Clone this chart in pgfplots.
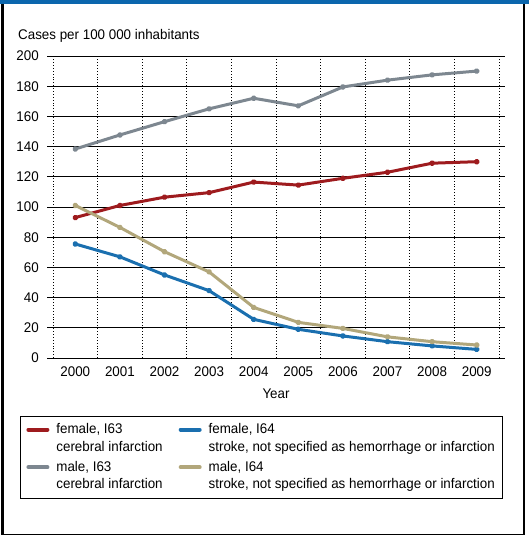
\documentclass[border=0pt]{standalone}
\usepackage{pgfplots}
\pgfplotsset{compat=1.18}
\usepackage{fontspec}
\setmainfont{Liberation Sans}[FakeStretch=0.955]
\definecolor{cred}{HTML}{9E1B1E}
\definecolor{cblue}{HTML}{1A6FAF}
\definecolor{cgray}{HTML}{7D8790}
\definecolor{ctan}{HTML}{B2A77B}
\definecolor{cbar}{HTML}{0B66AD}
\begin{document}
\fontsize{14bp}{17.5bp}\selectfont
\begin{tikzpicture}[x=1bp,y=1bp]
\useasboundingbox (0,0) rectangle (529,535);
\fill[cbar] (0,530.5) rectangle (529,535);
\draw[line width=2.5bp] (2.5,0) -- (2.5,531);
\draw[line width=2.5bp] (524,0) -- (524,531);
\draw[line width=2.5bp] (1.2,0) -- (525.3,0);
\begin{axis}[
  at={(47bp,177bp)}, anchor=south west,
  scale only axis, width=458bp, height=302bp,
  xmin=-0.635, xmax=9.635, ymin=0, ymax=200,
  xtick={0,...,9},
  xticklabels={2000,2001,2002,2003,2004,2005,2006,2007,2008,2009},
  minor xtick={-0.5,0.5,...,9.5},
  ytick={0,20,...,200},
  axis line style={draw=none},
  major tick length=0pt, minor tick length=0pt,
  ymajorgrids=true, xminorgrids=true,
  major grid style={black, line width=0.9bp},
  minor grid style={black, line width=0.9bp, dotted},
  yticklabel style={inner sep=0pt, xshift=-8bp},
  xticklabel style={inner sep=0pt, yshift=-9bp},
  tick label style={font=\fontsize{14bp}{17bp}\selectfont},
  /pgf/number format/assume math mode=true,
  xlabel={Year},
  xlabel style={at={(axis description cs:0.5,-0.103)}, anchor=north, inner sep=0pt},
  ylabel={Cases per 100 000 inhabitants},
  ylabel style={rotate=-90, at={(axis description cs:-0.0633,1.053)}, anchor=base west, inner sep=0pt},
  clip=false,
  every axis plot/.append style={line width=3bp, line join=round},
  legend columns=2,
  legend style={at={(axis description cs:-0.059,-0.192)}, anchor=north west,
    draw=black, line width=0.9bp, inner xsep=6bp, inner ysep=5bp,
    cells={align=left, anchor=west}, row sep=3.5bp,
    /tikz/every odd column/.append style={column sep=5bp},
    /tikz/every even column/.append style={column sep=14bp},
    font=\fontsize{14bp}{17.8bp}\selectfont},
  legend image code/.code={\draw[#1, mark=none, line width=4bp, line cap=round] (3bp,8.8bp) -- (22bp,8.8bp);},
]
\addplot[cred, mark=*, mark size=1.5bp, mark options={draw=none, fill=cred!60!white}] coordinates {
(0,93) (1,101) (2,106.5) (3,109.5) (4,116.5) (5,114.5) (6,119) (7,123) (8,129) (9,130)};
\addlegendentry{female, I63\\cerebral infarction}
\addplot[cblue, mark=*, mark size=1.5bp, mark options={draw=none, fill=cblue!60!white}] coordinates {
(0,75.5) (1,67) (2,55) (3,44.6) (4,25.6) (5,19) (6,14.6) (7,10.8) (8,8) (9,5.7)};
\addlegendentry{female, I64\\stroke, not specified as hemorrhage or infarction}
\addplot[cgray, mark=*, mark size=1.5bp, mark options={draw=none, fill=cgray!60!white}] coordinates {
(0,138.4) (1,147.7) (2,156.5) (3,165) (4,172) (5,167) (6,179.5) (7,184) (8,187.5) (9,190)};
\addlegendentry{male, I63\\cerebral infarction}
\addplot[ctan, mark=*, mark size=1.5bp, mark options={draw=none, fill=ctan!60!white}] coordinates {
(0,101) (1,86.5) (2,70.4) (3,57) (4,33.5) (5,23.6) (6,19.6) (7,14) (8,10.8) (9,8.6)};
\addlegendentry{male, I64\\stroke, not specified as hemorrhage or infarction}
\end{axis}
\end{tikzpicture}
\end{document}
